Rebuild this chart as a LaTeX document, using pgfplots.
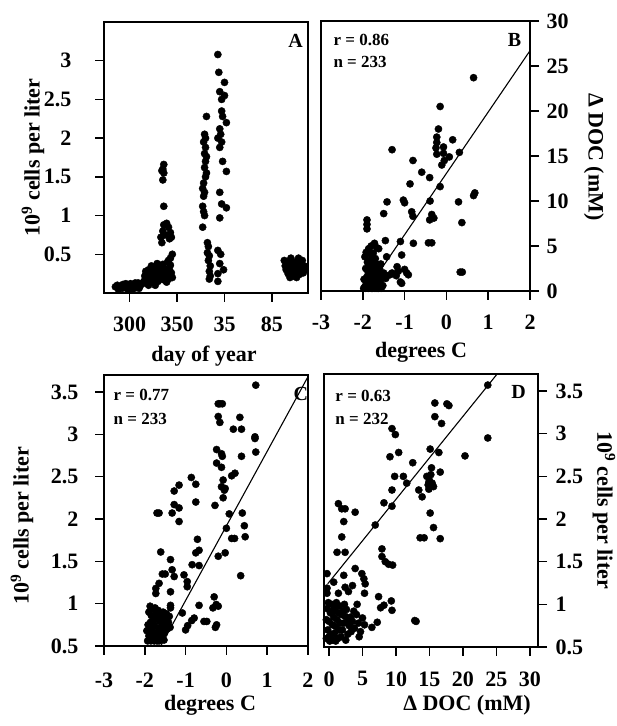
\documentclass[border=0pt]{standalone}
\usepackage{pgfplots}
\pgfplotsset{compat=1.18}
\usepackage{fontspec}
\setmainfont{Liberation Serif}
\begin{document}
\begin{tikzpicture}
\useasboundingbox (0,0) rectangle (617pt,726pt);
\pgfplotsset{
  panel/.style={
    scale only axis, anchor=south west,
    axis line style={line width=1.5pt},
    xtick align=outside, ytick align=outside,
    major tick length=9pt,
    major tick style={draw=black, solid, line width=1.3pt},
    xtick pos=bottom,
    tick label style={font=\fontsize{22}{25}\selectfont\bfseries},
    /pgf/number format/assume math mode=true,
  },
  dots/.style={only marks, mark=*, mark size=3.6pt, black, mark options={fill=black}},
}
\tikzset{lab/.style={font=\fontsize{22}{26}\selectfont\bfseries},
  annot/.style={font=\fontsize{17}{20}\selectfont\bfseries},
  pletter/.style={font=\fontsize{20}{24}\selectfont\bfseries},
  tk2/.style={line width=1.5pt, black}}

% ---------------- Panel A
\begin{axis}[panel, at={(104pt,433pt)}, width=204pt, height=271pt,
  xmin=273, xmax=488, ymin=0, ymax=3.5,
  xtick={300,350,400,450}, xticklabels={300,350,35,85},
  ytick={0.5,1,1.5,2,2.5,3}, ytick pos=left,
  xticklabel style={yshift=-11pt}, yticklabel style={xshift=-20pt}]
\addplot[dots] coordinates {
(285,0.08)(287,0.1)(289,0.06)(291,0.09)(293,0.11)(295,0.07)(297,0.1)(299,0.08)(301,0.12)(303,0.09)(305,0.06)(307,0.1)(309,0.13)(311,0.09)(288,0.05)(296,0.12)(302,0.05)(306,0.13)(310,0.06)(292,0.06)(298,0.05)(304,0.11)(312,0.11)
(315,0.15)(316,0.22)(317,0.28)(318,0.12)(319,0.2)(320,0.3)(321,0.18)(322,0.25)(323,0.35)(324,0.14)(325,0.22)(326,0.32)(327,0.19)(328,0.27)(329,0.38)(330,0.15)(331,0.24)(332,0.33)(333,0.2)(334,0.28)(335,0.37)(336,0.17)(337,0.25)(338,0.31)(339,0.22)(340,0.4)(341,0.18)(342,0.3)(343,0.45)(344,0.26)(345,0.5)(343,0.36)(341,0.42)(339,0.14)(345,0.2)(320,0.1)(327,0.1)
(334,0.65)(333,0.72)(335,0.8)(336,0.88)(339,0.9)(341,0.85)(343,0.78)(344,0.72)(342,0.7)(337,0.75)(336,1.12)(335,1.46)(336,1.55)(335,1.6)(336,1.66)(334,1.58)
(381,2.28)(379,2.05)(380,2.0)(378,1.95)(380,1.88)(379,1.8)(381,1.76)(380,1.7)(379,1.62)(381,1.55)(380,1.5)(378,1.42)(377,1.35)(379,1.3)(378,1.25)(377,1.12)(378,1.05)(379,1.0)(377,0.85)(382,0.65)(383,0.6)(382,0.52)(384,0.48)(383,0.42)(385,0.35)(384,0.28)(385,0.22)(384,0.18)
(393,3.08)(394,2.85)(400,2.72)(395,2.6)(400,2.55)(397,2.5)(397,2.35)(398,2.28)(402,2.2)(395,2.12)(396,2.05)(393,2.0)(397,1.95)(395,1.88)(398,1.7)(402,1.57)(395,1.3)(397,1.15)(402,1.1)(395,0.97)(393,0.55)(396,0.5)(395,0.38)(399,0.3)(393,0.25)(393,0.15)
(463,0.42)(464,0.35)(465,0.3)(466,0.4)(467,0.25)(468,0.33)(469,0.2)(470,0.38)(471,0.28)(472,0.35)(473,0.22)(474,0.3)(475,0.4)(476,0.27)(477,0.33)(478,0.45)(479,0.24)(480,0.36)(481,0.3)(482,0.42)(483,0.26)(484,0.35)(485,0.3)(470,0.45)(476,0.2)
};
\node[pletter] at (rel axis cs:0.939,0.93) {A};
\end{axis}

% ---------------- Panel B
\begin{axis}[panel, at={(321pt,435pt)}, width=209pt, height=270pt,
  xmin=-3, xmax=2, ymin=0, ymax=30,
  xtick={-3,-2,-1,0,1,2}, xticklabels={-3,-2,-1,0,1,2},
  ytick={0,5,10,15,20,25,30}, ytick pos=right, yticklabel pos=right,
  xticklabel style={yshift=-11pt}, yticklabel style={xshift=4pt}]
\addplot[dots] coordinates {
(-1.30,15.7)(-0.80,14.5)(-0.59,13.2)(-0.4,12.6)(-0.87,11.9)(-1.42,9.9)(-1.03,10.1)(-1.0,9.8)(-1.5,8.6)(-0.83,8.8)(-0.80,8.3)(-1.9,7.9)(-1.9,7.4)(-1.9,6.9)(-1.46,5.6)(-1.1,5.5)(-0.79,5.3)(-0.43,5.35)(-1.86,4.7)(-1.62,4.7)(-1.43,3.8)(-1.07,4.0)(-1.18,2.7)(-1.15,2.2)(-1.2,1.7)(-0.91,1.8)(-1.1,1.0)(-1.3,2.0)(-1.0,2.4)(-1.07,0.85)(-0.95,2.0)
(0.65,23.7)(-0.15,20.5)(-0.19,18.0)(-0.23,17.1)(-0.23,16.5)(-0.25,15.9)(-0.23,15.2)(-0.07,16.0)(-0.07,15.3)(-0.05,14.5)(0.15,16.8)(0.31,15.4)(0.07,14.9)(-0.11,14.0)(-0.15,11.6)(-0.39,10.0)(-0.35,8.5)(-0.3,8.1)(-0.4,7.9)(0.29,9.9)(0.65,10.6)(0.68,10.9)(0.37,7.6)(-0.35,5.35)(0.33,2.1)(0.38,2.1)
(-1.98,0.3)(-1.95,0.5)(-1.92,1.0)(-1.9,1.6)(-1.88,2.2)(-1.85,2.8)(-1.83,3.4)(-1.8,4.0)(-1.78,0.3)(-1.76,0.9)(-1.74,1.5)(-1.72,2.1)(-1.7,2.7)(-1.68,0.3)(-1.66,0.7)(-1.64,1.3)(-1.62,1.9)(-1.6,0.4)(-1.58,1.1)(-1.56,0.3)(-1.94,0.3)(-1.9,0.7)(-1.86,1.3)(-1.82,1.9)(-1.79,2.5)(-1.76,3.1)(-1.73,0.5)(-1.7,1.1)(-1.67,1.7)(-1.64,0.3)(-1.61,0.6)(-1.87,0.3)(-1.83,0.6)(-1.8,1.2)(-1.77,1.8)(-1.74,2.4)(-1.71,0.3)(-1.68,3.0)(-1.65,2.3)(-1.97,1.3)(-1.93,2.5)(-1.89,3.2)(-1.85,4.5)(-1.8,5.0)(-1.75,4.2)(-1.7,3.6)(-1.6,2.5)(-1.55,1.6)(-1.5,2.0)(-1.45,1.4)(-1.35,1.8)(-1.95,3.8)(-1.88,0.4)(-1.78,0.3)(-1.92,4.3)(-1.72,5.3)(-1.66,4.8)(-1.82,2.9)(-1.57,3.0)(-1.52,0.6)(-1.62,0.3)
};
\addplot[black, line width=1.1pt] coordinates {(-1.58,2.3) (2,26.7)};
\node[annot, anchor=west] at (rel axis cs:0.043,0.93) {r = 0.86};
\node[annot, anchor=west] at (rel axis cs:0.043,0.848) {n = 233};
\node[pletter] at (rel axis cs:0.926,0.93) {B};
\end{axis}

% ---------------- Panel C
\begin{axis}[panel, at={(104pt,80pt)}, width=204pt, height=271pt,
  xmin=-3, xmax=2, ymin=0.5, ymax=3.7,
  xtick={-3,-2,-1,0,1,2}, xticklabels={-3,-2,-1,0,1,2},
  ytick={0.5,1,1.5,2,2.5,3,3.5}, ytick pos=left,
  xticklabel style={yshift=-14pt}, yticklabel style={xshift=-13pt}]
\addplot[dots] coordinates {
(-0.86,2.49)(-0.75,2.41)(-0.75,2.20)(-1.28,2.33)(-1.16,2.40)(-1.28,2.17)(-1.16,2.13)(-1.33,2.07)(-1.16,1.97)(-1.65,2.07)(-1.70,2.07)(-1.61,1.61)(-0.71,1.76)(-0.67,1.63)(-0.75,1.6)(-1.37,1.52)(-0.84,1.46)(-0.67,1.45)(-1.57,1.35)(-1.5,1.35)(-1.28,1.32)(-1.33,1.4)(-1.04,1.34)(-0.96,1.26)(-0.96,1.2)(-1.65,1.24)(-1.73,1.18)(-1.73,1.12)(-1.37,1.14)(-1.37,0.98)(-1.37,0.95)(-0.67,0.98)(-1.08,0.89)(-0.79,0.83)(-0.55,0.79)(-1.0,0.69)(-0.95,0.74)(-0.85,0.8)
(0.72,3.58)(-0.2,3.36)(-0.16,3.36)(-0.1,3.36)(-0.2,3.21)(-0.16,3.14)(0.33,3.2)(0.17,3.06)(0.37,3.06)(0.7,2.97)(0.7,2.95)(0.72,2.79)(0.37,2.74)(-0.24,2.82)(-0.12,2.77)(-0.1,2.74)(-0.24,2.66)(-0.12,2.61)(0.21,2.54)(0.13,2.51)(-0.08,2.46)(-0.03,2.36)(-0.12,2.38)(-0.05,2.34)(-0.08,2.25)(-0.28,2.16)(0.07,2.06)(0.39,2.07)(0.0,1.89)(0.44,1.92)(0.13,1.77)(0.2,1.77)(0.46,1.79)(-0.03,1.6)(-0.2,1.56)(0.35,1.33)(-0.3,1.08)(-0.25,0.99)(-0.33,0.95)(-0.2,0.97)(-0.48,0.79)(-0.24,0.75)(-0.27,0.72)
(-1.93,0.56)(-1.9,0.62)(-1.88,0.7)(-1.86,0.78)(-1.84,0.86)(-1.82,0.94)(-1.8,0.58)(-1.78,0.66)(-1.76,0.74)(-1.74,0.82)(-1.72,0.9)(-1.7,0.56)(-1.68,0.63)(-1.66,0.71)(-1.64,0.79)(-1.62,0.87)(-1.6,0.6)(-1.58,0.68)(-1.56,0.76)(-1.54,0.84)(-1.52,0.65)(-1.5,0.73)(-1.48,0.81)(-1.45,0.7)(-1.42,0.78)(-1.9,0.9)(-1.85,0.56)(-1.75,0.95)(-1.65,0.56)(-1.55,0.9)(-1.92,0.75)(-1.87,0.97)(-1.83,0.65)(-1.79,0.8)(-1.73,0.6)(-1.69,0.85)(-1.63,0.65)(-1.59,0.8)(-1.53,0.57)(-1.47,0.88)(-1.4,0.85)(-1.38,0.72)(-1.81,0.72)(-1.77,0.56)(-1.67,0.92)(-1.95,0.68)(-1.86,0.6)
};
\addplot[black, line width=1.1pt] coordinates {(-1.61,0.5) (2,3.68)};
\node[annot, anchor=west] at (rel axis cs:0.03,0.926) {r = 0.77};
\node[annot, anchor=west] at (rel axis cs:0.03,0.838) {n = 233};
\node[pletter] at (rel axis cs:0.965,0.93) {C};
\end{axis}

% ---------------- Panel D
\begin{axis}[panel, at={(324pt,79pt)}, width=214pt, height=273pt,
  xmin=-0.75, xmax=31.2, ymin=0.5, ymax=3.7,
  xtick={0,5,10,15,20,25,30},
  ytick={0.5,1,1.5,2,2.5,3,3.5}, ytick pos=right, yticklabel pos=right,
  xticklabel style={yshift=-12pt}, yticklabel style={xshift=5pt}]
\addplot[dots] coordinates {
(9.4,3.06)(9.9,2.99)(9.1,2.73)(10.4,2.78)(12.5,2.66)(9.8,2.5)(11.1,2.5)(11.6,2.42)(9.4,2.34)(8.2,2.19)(9.4,2.15)(13.4,2.34)(13.9,2.26)(14.9,2.43)(14.9,2.35)(15.1,2.07)(13.6,1.78)(14.2,1.78)(6.9,1.93)(1.4,2.18)(1.9,2.12)(2.4,2.12)(2.2,1.97)(3.9,2.08)(1.9,1.79)(1.2,1.61)(2.4,1.61)(7.9,1.65)(7.9,1.56)(8.4,1.5)(8.9,1.47)(9.5,1.46)(-0.3,1.36)(2.2,1.34)(3.9,1.42)(4.9,1.36)(5.2,1.3)(5.4,1.24)(0.7,1.26)(-0.3,1.19)(-0.3,1.13)(1.4,1.13)(2.4,1.2)(2.9,1.15)(3.5,1.22)(5.3,1.13)(7.4,1.09)(9.3,1.04)(8.2,0.99)(7.7,0.96)(9.4,0.93)(12.8,0.81)(13.0,0.8)(7.2,0.79)(6.4,0.73)
(23.7,3.57)(15.8,3.36)(17.6,3.35)(17.9,3.33)(15.8,3.2)(16.8,3.12)(23.7,2.95)(15.1,2.82)(16.4,2.78)(20.3,2.74)(15.3,2.6)(16.6,2.55)(14.6,2.5)(15.0,2.45)(15.4,2.42)(15.6,2.38)(14.8,2.4)(15.2,2.52)(15.6,1.9)(16.6,1.77)
(-0.4,0.6)(-0.2,0.7)(0,0.8)(0.2,0.9)(0.4,1.0)(0.6,0.58)(0.8,0.66)(1.0,0.74)(1.2,0.82)(1.4,0.9)(1.6,0.98)(1.8,0.62)(2.0,0.7)(2.2,0.78)(2.4,0.86)(2.6,0.94)(2.8,0.65)(3.0,0.75)(3.2,0.85)(3.5,0.8)(3.8,0.72)(4.1,0.88)(4.4,0.78)(4.7,0.68)(5.0,0.84)(5.3,0.76)(-0.3,0.95)(0.1,0.57)(0.5,0.76)(0.9,0.95)(1.3,0.6)(1.7,0.78)(2.1,0.92)(2.5,0.58)(2.9,0.82)(3.3,0.68)(0.3,0.65)(0.7,0.85)(1.1,1.02)(1.5,0.7)(-0.1,1.02)(0.0,0.62)(2.3,1.0)(3.7,0.92)(4.5,0.62)(4.2,1.0)(1.9,0.88)(0.5,0.92)(-0.4,0.82)(1.0,0.57)
};
\addplot[black, line width=1.1pt] coordinates {(-0.2,1.24) (25.0,3.69)};
\node[annot, anchor=west] at (rel axis cs:0.037,0.92) {r = 0.63};
\node[annot, anchor=west] at (rel axis cs:0.037,0.835) {n = 232};
\node[pletter] at (rel axis cs:0.909,0.934) {D};
\end{axis}

% ---------------- outward tick marks
\foreach \x in {129.6,177.0,224.5,271.9} \draw[tk2] (\x pt,433pt) -- (\x pt,424pt);
\foreach \y in {471.7,510.4,549.1,587.9,626.6,665.3} \draw[tk2] (104pt,\y pt) -- (95pt,\y pt);
\foreach \x in {321,362.8,404.6,446.4,488.2,530} \draw[tk2] (\x pt,435pt) -- (\x pt,426pt);
\foreach \y in {435,480,525,570,615,660,705} \draw[tk2] (530pt,\y pt) -- (539pt,\y pt);
\foreach \x in {104,144.8,185.6,226.4,267.2,308} \draw[tk2] (\x pt,80pt) -- (\x pt,71pt);
\foreach \y in {80,122.3,164.7,207.0,249.4,291.7,334.1} \draw[tk2] (104pt,\y pt) -- (95pt,\y pt);
\foreach \x in {329.0,362.5,396.0,429.5,463.0,496.5,529.9} \draw[tk2] (\x pt,79pt) -- (\x pt,70pt);
\foreach \y in {79,121.7,164.3,207.0,249.6,292.3,334.9} \draw[tk2] (538pt,\y pt) -- (547pt,\y pt);

% ---------------- axis titles
\node[lab, rotate=90] at (33pt,568.5pt) {10\textsuperscript{9} cells per liter};
\node[lab] at (204pt,370pt) {day of year};
\node[lab] at (421pt,374pt) {degrees C};
\node[lab, rotate=-90] at (594pt,569pt) {Δ DOC (mM)};
\node[lab, rotate=90] at (22pt,200pt) {10\textsuperscript{9} cells per liter};
\node[lab] at (210pt,21pt) {degrees C};
\node[lab] at (467pt,21pt) {Δ DOC (mM)};
\node[lab, rotate=-90] at (604pt,216pt) {10\textsuperscript{9} cells per liter};
\end{tikzpicture}
\end{document}
